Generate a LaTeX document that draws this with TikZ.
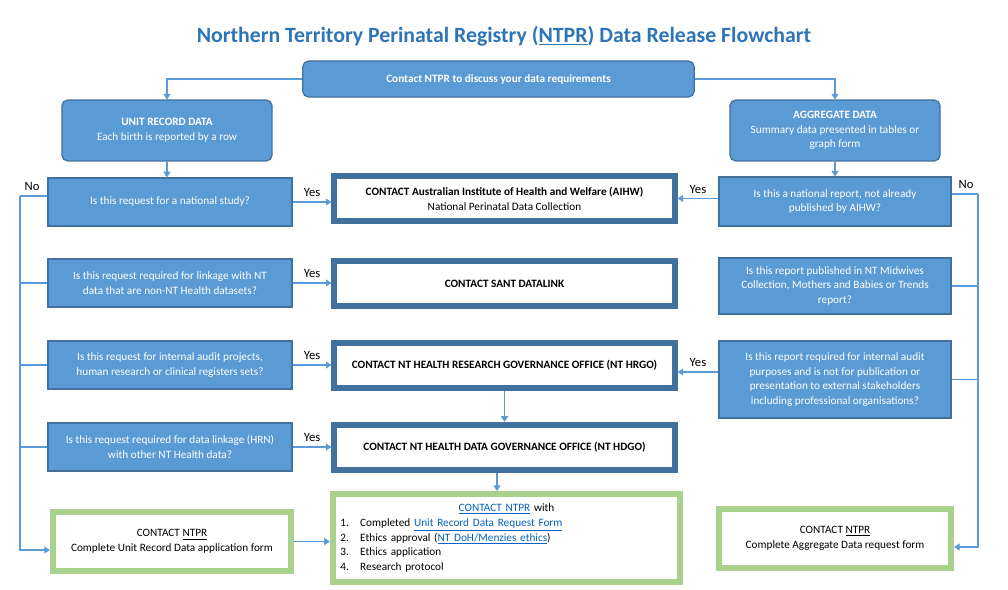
\documentclass[tikz,border=0pt]{standalone}
\usepackage{fontspec}
\setmainfont{Carlito}
\usetikzlibrary{arrows.meta}
\definecolor{ntblue}{RGB}{91,155,213}
\definecolor{ntdark}{RGB}{65,113,156}
\definecolor{nttitle}{RGB}{46,117,182}
\definecolor{ntgreen}{RGB}{169,209,142}
\definecolor{ntlink}{RGB}{5,99,193}
\newcommand{\ntlnk}[1]{\textcolor{ntlink}{\underline{#1}}}
\tikzset{
  question/.style={draw=ntdark,fill=ntblue,line width=0.9pt,text=white,align=center,
    font=\fontsize{8}{10.5}\selectfont,inner sep=2pt},
  start/.style={question,rounded corners=4pt,font=\fontsize{8}{10.5}\selectfont\bfseries},
  contact/.style={draw=ntdark,fill=white,line width=4.3pt,align=center,
    font=\fontsize{8}{10.5}\selectfont\bfseries,minimum width=8.5cm,minimum height=1.13cm},
  form/.style={draw=ntgreen,fill=white,line width=4.3pt,align=center,
    font=\fontsize{8}{10.5}\selectfont},
  link/.style={draw=ntblue,line width=0.8pt,-{Triangle[width=5pt,length=4pt]}},
  ans/.style={font=\fontsize{9}{11}\selectfont}
}
\begin{document}
\begin{tikzpicture}[x=0.025cm,y=-0.025cm]
\useasboundingbox (0,0) rectangle (1008,590);
\node[text=nttitle,font=\fontsize{15.5}{18}\selectfont\bfseries] (title) at (504,36)
  {Northern Territory Perinatal Registry (\underline{NTPR}) Data Release Flowchart};

% start and data types
\node[start,minimum width=9.78cm,minimum height=0.9cm] (discuss) at (498.5,79)
  {Contact NTPR to discuss your data requirements};
\node[start,minimum width=5.25cm,minimum height=1.52cm] (unit) at (167,130.5)
  {UNIT RECORD DATA\\\mdseries Each birth is reported by a row};
\node[start,minimum width=5.25cm,minimum height=1.52cm] (aggr) at (835,130.5)
  {AGGREGATE DATA\\\mdseries Summary data presented in tables or\\\mdseries graph form};

% unit record questions
\node[question,minimum width=6.1cm,minimum height=1.2cm] (uq1) at (170,202)
  {Is this request for a national study?};
\node[question,minimum width=6.1cm,minimum height=1.2cm] (uq2) at (170,283)
  {Is this request required for linkage with NT\\data that are non-NT Health datasets?};
\node[question,minimum width=6.1cm,minimum height=1.2cm] (uq3) at (170,365)
  {Is this request for internal audit projects,\\human research or clinical registers sets?};
\node[question,minimum width=6.1cm,minimum height=1.2cm] (uq4) at (170,447)
  {Is this request required for data linkage (HRN)\\with other NT Health data?};

% aggregate questions
\node[question,minimum width=5.8cm,minimum height=1.22cm] (aq1) at (835,201.5)
  {Is this a national report, not already\\published by AIHW?};
\node[question,minimum width=5.8cm,minimum height=1.4cm] (aq2) at (835,286)
  {Is this report published in NT Midwives\\Collection, Mothers and Babies or Trends\\report?};
\node[question,minimum width=5.8cm,minimum height=1.92cm] (aq3) at (835,379.5)
  {Is this report required for internal audit\\purposes and is not for publication or\\presentation to external stakeholders\\including professional organisations?};

% contacts
\node[contact] (aihw) at (504.5,198.5)
  {CONTACT Australian Institute of Health and Welfare (AIHW)\\\mdseries National Perinatal Data Collection};
\node[contact] (sant) at (504.5,283.5) {CONTACT SANT DATALINK};
\node[contact] (hrgo) at (504.5,365.5) {CONTACT NT HEALTH RESEARCH GOVERNANCE OFFICE (NT HRGO)};
\node[contact] (hdgo) at (504.5,447.5) {CONTACT NT HEALTH DATA GOVERNANCE OFFICE (NT HDGO)};

% forms
\node[form,minimum width=5.95cm,minimum height=1.47cm] (uform) at (172,541.5)
  {CONTACT \underline{NTPR}\\Complete Unit Record Data application form};
\node[form,minimum width=8.68cm,minimum height=2.2cm,align=left,text width=8.3cm] (nform) at (506.5,538)
  {\centering\ntlnk{CONTACT NTPR} with\par
   \raggedright 1.\quad Completed \ntlnk{Unit Record Data Request Form}\\
   2.\quad Ethics approval (\ntlnk{NT DoH/Menzies ethics})\\
   3.\quad Ethics application\\
   4.\quad Research protocol};
\node[form,minimum width=5.8cm,minimum height=1.47cm] (aform) at (835,538.5)
  {CONTACT \underline{NTPR}\\Complete Aggregate Data request form};

% connectors
\coordinate (lbus) at (20,196);
\coordinate (rbus) at (978,194);
\draw[link] (discuss.west) -| (unit.north);
\draw[link] (discuss.east) -| (aggr.north);
\draw[link] (unit.south) -- (unit.south |- uq1.north);
\draw[link] (aggr.south) -- (aggr.south |- aq1.north);
\foreach \q/\c in {uq1/aihw,uq2/sant,uq3/hrgo,uq4/hdgo}
  \draw[link] (\q.east) -- node[ans,above,text=black] {Yes} (\q.east -| \c.west);
\draw[link] (aq1.west |- aihw.east) -- node[ans,above] {Yes} (aihw.east);
\draw[link] (aq3.west |- 0,372) -- node[ans,above] {Yes} (hrgo.east |- 0,372);
\draw[link] (hrgo.south) -- (hdgo.north);
\draw[link] (hdgo.south -| 497,0) -- (nform.north -| 497,0);
\draw[link] (uform.east) -- (nform.west |- uform.east);
\draw[ntblue,line width=0.8pt] (uq1.west |- lbus) -- (lbus);
\node[ans,anchor=south] at (32,196) {No};
\foreach \q in {uq2,uq3,uq4}
  \draw[ntblue,line width=0.8pt] (\q.west) -- (\q.west -| lbus);
\draw[link] (lbus) |- (uform.west |- 0,550);
\draw[ntblue,line width=0.8pt] (aq1.east |- rbus) -- (rbus);
\node[ans,anchor=south] at (966,194) {No};
\foreach \q in {aq2,aq3}
  \draw[ntblue,line width=0.8pt] (\q.east) -- (\q.east -| rbus);
\draw[link] (rbus) |- (aform.east |- 0,547);
\end{tikzpicture}
\end{document}
